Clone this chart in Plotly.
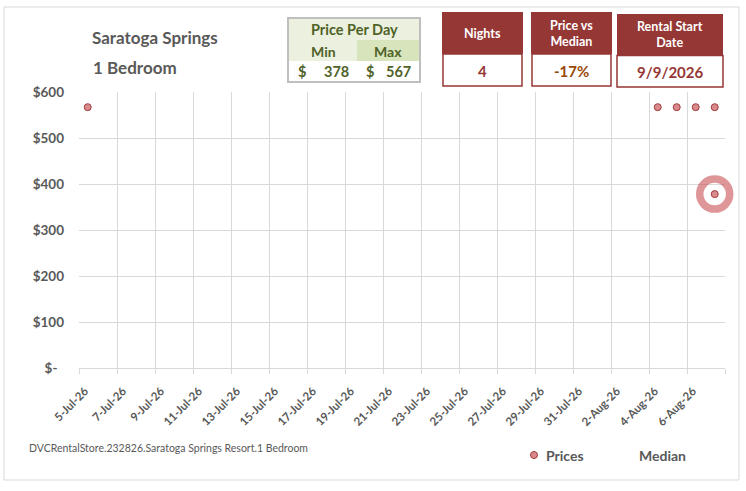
import plotly.graph_objects as go

# data
price_dates = ["2026-07-05 11:00", "2026-08-04 11:00", "2026-08-05 11:00",
               "2026-08-06 11:00", "2026-08-07 11:00", "2026-08-07 11:00"]
prices = [567, 567, 567, 567, 567, 378]
min_date = ["2026-08-07 11:00"]
min_price = [378]

tick_dates = ["2026-07-05", "2026-07-07", "2026-07-09", "2026-07-11", "2026-07-13",
              "2026-07-15", "2026-07-17", "2026-07-19", "2026-07-21", "2026-07-23",
              "2026-07-25", "2026-07-27", "2026-07-29", "2026-07-31", "2026-08-02",
              "2026-08-04", "2026-08-06", "2026-08-08"]
tick_labels = ["5-Jul-26", "7-Jul-26", "9-Jul-26", "11-Jul-26", "13-Jul-26",
               "15-Jul-26", "17-Jul-26", "19-Jul-26", "21-Jul-26", "23-Jul-26",
               "25-Jul-26", "27-Jul-26", "29-Jul-26", "31-Jul-26", "2-Aug-26",
               "4-Aug-26", "6-Aug-26", ""]
y_ticks = [0, 100, 200, 300, 400, 500, 600]
y_labels = ["$-\u00a0\u00a0", "$100", "$200", "$300", "$400", "$500", "$600"]

resort = "Saratoga Springs"
room = "1 Bedroom"
min_per_day = 378
max_per_day = 567
nights = "4"
vs_median = "-17%"
start_date = "9/9/2026"
footer = "DVCRentalStore.232826.Saratoga Springs Resort.1 Bedroom"

FONT = "Lato, Open Sans, sans-serif"
GRAY = "#595959"
RED = "#953735"
GREEN_TXT = "#4F6228"
DOT_FILL = "#D88A8C"
DOT_LINE = "#A33B3B"

# plot area in pixels
L, R, T, B = 79, 21, 92, 123
W, H = 746 - L - R, 491 - T - B


def px(x):
    return (x - L) / W


def py(y):
    return (491 - B - y) / H


fig = go.Figure()
fig.add_trace(go.Scatter(
    x=min_date, y=min_price, mode="markers", showlegend=False, hoverinfo="skip",
    cliponaxis=False,
    marker=dict(symbol="circle-open", size=30, color="rgba(200,80,84,0.6)",
                line=dict(width=7.5))))
fig.add_trace(go.Scatter(
    x=price_dates, y=prices, mode="markers", name="Prices", showlegend=False,
    cliponaxis=False,
    marker=dict(size=7, color=DOT_FILL, line=dict(width=1, color=DOT_LINE))))

shapes = []


def box(x0, y0, x1, y1, fill="rgba(0,0,0,0)", line_color="rgba(0,0,0,0)", lw=0, kind="rect"):
    shapes.append(dict(type=kind, xref="paper", yref="paper",
                       x0=px(x0), x1=px(x1), y0=py(y1), y1=py(y0),
                       fillcolor=fill, line=dict(color=line_color, width=lw), layer="above"))


annotations = []


def label(x, y, text, size=13, color=GRAY, bold=True, anchor="center"):
    if bold:
        text = "<b>" + text + "</b>"
    annotations.append(dict(xref="paper", yref="paper", x=px(x), y=py(y), text=text,
                            showarrow=False, xanchor=anchor, yanchor="middle",
                            font=dict(family=FONT, size=size, color=color)))


# outer chart border
box(4, 7, 739, 480, line_color="#D9D9D9", lw=1)

# price per day table
box(288, 18, 420, 40, fill="#EBF1DE")
box(288, 40, 357, 61, fill="#EBF1DE")
box(357, 40, 420, 61, fill="#D8E4BC")
box(288, 61, 420, 82, fill="white")
box(288, 18, 420, 82, line_color="#BFBFBF", lw=2)
label(354, 30, "Price Per Day", size=14.5, color=GREEN_TXT)
label(323, 51, "Min", size=14, color=GREEN_TXT)
label(388, 51, "Max", size=14, color=GREEN_TXT)
label(296, 72, "$", size=14.5, color=GREEN_TXT, anchor="left")
label(351, 72, str(min_per_day), size=14.5, color=GREEN_TXT, anchor="right")
label(364, 72, "$", size=14.5, color=GREEN_TXT, anchor="left")
label(413, 72, str(max_per_day), size=14.5, color=GREEN_TXT, anchor="right")

# info boxes
box(442, 12, 523, 54, fill=RED)
box(443, 54, 522, 86, fill="white", line_color=RED, lw=1.5)
label(482, 34, "Nights", size=12.5, color="white")
label(482, 71, nights, size=15, color=RED)

box(531, 12, 612, 54, fill=RED)
box(532, 54, 611, 86, fill="white", line_color=RED, lw=1.5)
label(571, 34, "Price vs<br>Median", size=12.5, color="white")
label(571, 71, vs_median, size=15, color="#984807")

box(617, 14, 723, 55.5, fill=RED)
box(617, 55.5, 723, 87, fill="white", line_color=RED, lw=1.5)
label(670, 35, "Rental Start<br>Date", size=12.5, color="white")
label(670, 72, start_date, size=15, color=RED)

# titles and footer
label(90, 37, resort, size=17, anchor="left")
label(91, 67, room, size=17, anchor="left")
label(27, 448, footer, size=10.5, bold=False, anchor="left")

# legend drawn by hand to match spacing
box(530.5, 451.5, 537.5, 458.5, fill=DOT_FILL, line_color=DOT_LINE, lw=1, kind="circle")
label(544, 455, "Prices", size=14, anchor="left")
label(637, 455, "Median", size=14, anchor="left")

fig.update_layout(
    width=746, height=491,
    margin=dict(l=L, r=R, t=T, b=B),
    paper_bgcolor="white", plot_bgcolor="white",
    font=dict(family=FONT, color=GRAY),
    shapes=shapes, annotations=annotations,
    showlegend=False,
    xaxis=dict(type="date", range=["2026-07-05", "2026-08-08"],
               tickvals=tick_dates, ticktext=tick_labels, tickangle=-45,
               tickfont=dict(family=FONT, size=11.5, color=GRAY, weight="bold"),
               ticklabelshift=6, ticklabelstandoff=6,
               showgrid=True, gridcolor="#D9D9D9", gridwidth=1,
               ticks="outside", ticklen=5, tickcolor="#D9D9D9",
               showline=True, linecolor="#D9D9D9", zeroline=False),
    yaxis=dict(range=[0, 600], tickvals=y_ticks, ticktext=y_labels,
               tickfont=dict(family=FONT, size=13.5, color=GRAY, weight="bold"),
               showgrid=True, gridcolor="#D9D9D9", gridwidth=1,
               ticklabelstandoff=14, zeroline=False, showline=False),
)

fig.write_html("out.html", config={"displayModeBar": False},
               post_script="document.body.style.margin='0px';")
